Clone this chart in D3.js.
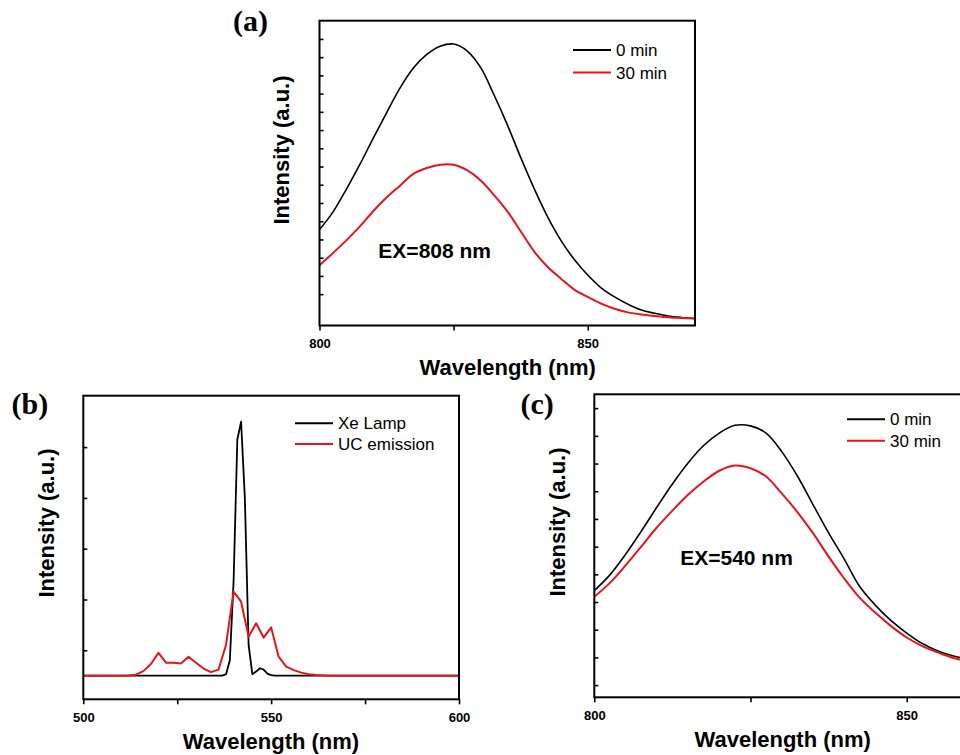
<!DOCTYPE html>
<html>
<head>
<meta charset="utf-8">
<script src="https://cdn.jsdelivr.net/npm/d3@7/dist/d3.min.js"></script>
<style>
  body { margin: 0; background: #fff; }
  svg text { font-family: "Liberation Sans", Arial, sans-serif; fill: #000; }
</style>
</head>
<body>
<div id="chart"></div>
<script>
// ---- data ----

// (a) EX = 808 nm
const waveA = [800, 802.5, 805, 807.5, 810, 812.5, 815, 817.5, 820, 822.5, 825, 827.5, 830, 832.5, 835,
               837.5, 840, 842.5, 845, 847.5, 850, 852.5, 855, 857.5, 860, 862.5, 865, 867.5, 870];
const a0min  = [3.54, 4.5, 5.75, 7.1, 8.55, 9.95, 11.3, 12.4, 13.15, 13.6, 13.72, 13.35, 12.45, 10.95, 9.3,
                7.5, 5.8, 4.25, 2.95, 1.9, 1.05, 0.35, -0.15, -0.55, -0.87, -1.05, -1.2, -1.28, -1.33];
const a30min = [1.59, 2.25, 2.95, 3.7, 4.55, 5.3, 5.95, 6.6, 6.92, 7.1, 7.1, 6.8, 6.25, 5.45, 4.55,
                3.45, 2.35, 1.5, 0.85, 0.25, -0.15, -0.52, -0.8, -1.0, -1.12, -1.2, -1.27, -1.31, -1.33];

// (b) Xe lamp vs UC emission
const waveXe = [500, 520, 530, 536, 537, 538, 539, 540, 541, 542, 543, 544, 545, 546, 547, 548, 549, 550, 551, 570, 600];
const xeLamp = [0, 0, 0, 0, 0, 30, 300, 1850, 4650, 5000, 3500, 600, 30, 80, 146, 120, 40, 10, 0, 0, 0];
const waveUC = [500, 505, 510, 512, 514, 516, 518, 520, 522, 524, 526, 528, 530, 532, 534, 536, 538, 540,
                542, 544, 546, 548, 550, 552, 554, 556, 558, 560, 562, 564, 566, 570, 580, 590, 600];
const ucEmission = [0, 0, 0, 5, 20, 90, 230, 450, 256, 256, 240, 374, 256, 140, 70, 120, 610, 1654,
                    1457, 768, 1031, 750, 950, 374, 177, 110, 60, 30, 15, 6, 0, 0, 0, 0, 0];

// (c) EX = 540 nm
const waveC = [800, 802.5, 805, 807.5, 810, 812.5, 815, 817.5, 820, 822.5, 825, 827.5, 830, 832.5, 835,
               837.5, 840, 842.5, 845, 847.5, 850, 852.5, 855, 857.5, 860];
const c0min  = [3.41, 3.98, 4.72, 5.55, 6.42, 7.26, 8.02, 8.65, 9.1, 9.38, 9.36, 9.1, 8.43, 7.55, 6.52,
                5.5, 4.55, 3.55, 2.88, 2.33, 1.88, 1.5, 1.23, 1.05, 0.93];
const c30min = [3.19, 3.69, 4.32, 5.0, 5.69, 6.3, 6.87, 7.35, 7.74, 7.93, 7.83, 7.53, 6.92, 6.25, 5.49,
                4.64, 3.85, 3.15, 2.61, 2.13, 1.72, 1.41, 1.18, 0.98, 0.85];

const xTicksA = [800, 825, 850];
const xLabelsA = [800, 850];
const xTicksB = [500, 525, 550, 575, 600];
const xLabelsB = [500, 550, 600];
const yTicksA = d3.range(0, 15);
const yTicksB = [500, 1500, 2500, 3500, 4500];
const yTicksC = d3.range(0, 11);

const BLACK = "#000";
const RED = "#e8141c";

const svg = d3.select("#chart").append("svg")
  .attr("width", 960)
  .attr("height", 755);

function drawPanel(p) {
  const x = d3.scaleLinear().domain(p.xDomain).range([p.left, p.right]);
  const y = d3.scaleLinear().domain(p.yDomain).range([p.bottom, p.top]);
  const g = svg.append("g");

  const clipId = "clip-" + p.id;
  g.append("clipPath").attr("id", clipId)
    .append("rect")
    .attr("x", p.left).attr("y", p.top)
    .attr("width", p.right - p.left).attr("height", p.bottom - p.top);

  // left ticks, pointing inward
  g.append("g")
    .attr("transform", `translate(${p.left},0)`)
    .call(d3.axisLeft(y).tickValues(p.yTicks).tickSize(-4).tickFormat(""))
    .call(a => a.select(".domain").remove())
    .call(a => a.selectAll("line").attr("stroke", BLACK).attr("stroke-width", 1.6));

  // bottom ticks, pointing outward
  g.append("g")
    .attr("transform", `translate(0,${p.bottom})`)
    .call(d3.axisBottom(x).tickValues(p.xTicks).tickSize(5).tickPadding(8)
      .tickFormat(d => p.xLabels.includes(d) ? d : ""))
    .call(a => a.select(".domain").remove())
    .call(a => a.selectAll("line").attr("stroke", BLACK).attr("stroke-width", 1.6))
    .call(a => a.selectAll("text")
      .attr("fill", BLACK)
      .style("font-family", '"Liberation Sans", Arial, sans-serif')
      .style("font-size", "13px")
      .style("font-weight", "bold"));

  // spectra
  const line = d3.line()
    .x(d => x(d[0]))
    .y(d => y(d[1]))
    .curve(p.curve);

  p.series.forEach(s => {
    g.append("path")
      .datum(d3.zip(s.wave, s.values))
      .attr("clip-path", `url(#${clipId})`)
      .attr("fill", "none")
      .attr("stroke", s.color)
      .attr("stroke-width", s.width)
      .attr("stroke-linejoin", "round")
      .attr("d", line);
  });

  // frame
  g.append("rect")
    .attr("x", p.left).attr("y", p.top)
    .attr("width", p.right - p.left).attr("height", p.bottom - p.top)
    .attr("fill", "none")
    .attr("stroke", BLACK)
    .attr("stroke-width", 2);

  // legend
  p.series.forEach((s, i) => {
    const ly = p.legend.y + i * p.legend.gap;
    g.append("line")
      .attr("x1", p.legend.x).attr("x2", p.legend.x + 38)
      .attr("y1", ly).attr("y2", ly)
      .attr("stroke", s.color).attr("stroke-width", 2);
    g.append("text")
      .attr("x", p.legend.x + 43).attr("y", ly + 6)
      .style("font-size", "17px")
      .text(s.name);
  });

  // axis titles
  g.append("text")
    .attr("transform", `translate(${p.yTitle[0]},${p.yTitle[1]}) rotate(-90)`)
    .attr("text-anchor", "middle")
    .attr("dy", "0.35em")
    .style("font-size", "22px")
    .style("font-weight", "bold")
    .text("Intensity (a.u.)");

  g.append("text")
    .attr("x", p.xTitle[0]).attr("y", p.xTitle[1])
    .attr("text-anchor", "middle")
    .style("font-size", "22px")
    .style("font-weight", "bold")
    .text("Wavelength (nm)");

  // panel letter
  g.append("text")
    .attr("x", p.tag[0]).attr("y", p.tag[1])
    .style("font-family", '"Liberation Serif", "Times New Roman", serif')
    .style("font-size", "30px")
    .style("font-weight", "bold")
    .text(p.tagText);

  if (p.note) {
    g.append("text")
      .attr("x", p.note.x).attr("y", p.note.y)
      .attr("text-anchor", "middle")
      .style("font-size", "21px")
      .style("font-weight", "bold")
      .text(p.note.text);
  }
}

drawPanel({
  id: "a", tagText: "(a)", tag: [233, 31],
  left: 319.5, right: 695, top: 20.7, bottom: 325.5,
  xDomain: [800, 870], yDomain: [-1.72, 15.0],
  xTicks: xTicksA, xLabels: xLabelsA, yTicks: yTicksA,
  curve: d3.curveCatmullRom.alpha(0.5),
  series: [
    { name: "0 min", wave: waveA, values: a0min, color: BLACK, width: 1.6 },
    { name: "30 min", wave: waveA, values: a30min, color: RED, width: 2 }
  ],
  legend: { x: 573, y: 50, gap: 22.5 },
  yTitle: [281, 150], xTitle: [507.7, 375],
  note: { x: 434.7, y: 257.7, text: "EX=808 nm" }
});

drawPanel({
  id: "b", tagText: "(b)", tag: [11.5, 414],
  left: 83.3, right: 459, top: 395.7, bottom: 699.3,
  xDomain: [500, 600], yDomain: [-465, 5512],
  xTicks: xTicksB, xLabels: xLabelsB, yTicks: yTicksB,
  curve: d3.curveLinear,
  series: [
    { name: "Xe Lamp", wave: waveXe, values: xeLamp, color: BLACK, width: 1.8 },
    { name: "UC emission", wave: waveUC, values: ucEmission, color: RED, width: 2 }
  ],
  legend: { x: 295, y: 423.3, gap: 20.7 },
  yTitle: [46, 523], xTitle: [271, 749],
  note: null
});

drawPanel({
  id: "c", tagText: "(c)", tag: [520.5, 414],
  left: 594.3, right: 969.2, top: 394.3, bottom: 697.3,
  xDomain: [800, 860], yDomain: [-0.44, 10.5],
  xTicks: xTicksA, xLabels: xLabelsA, yTicks: yTicksC,
  curve: d3.curveCatmullRom.alpha(0.5),
  series: [
    { name: "0 min", wave: waveC, values: c0min, color: BLACK, width: 1.6 },
    { name: "30 min", wave: waveC, values: c30min, color: RED, width: 2 }
  ],
  legend: { x: 847, y: 419.3, gap: 21.4 },
  yTitle: [557, 522], xTitle: [782.7, 746.7],
  note: { x: 736.5, y: 565, text: "EX=540 nm" }
});
</script>
</body>
</html>
